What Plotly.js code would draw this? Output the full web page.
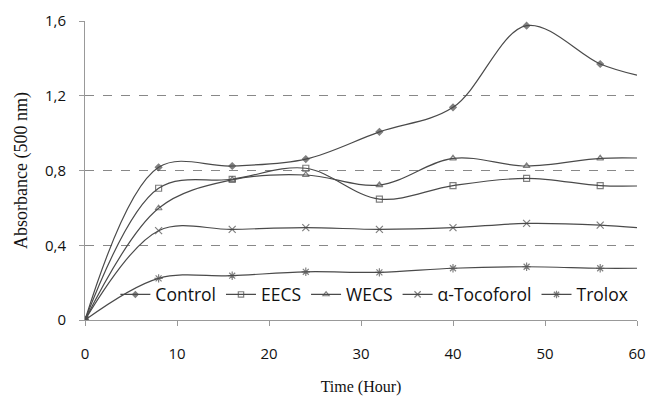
<!DOCTYPE html>
<html>
<head>
<meta charset="utf-8">
<script src="https://cdn.plot.ly/plotly-3.0.1.min.js"></script>
<style>html,body{margin:0;padding:0;background:#fff;}#chart{width:653px;height:400px;}</style>
</head>
<body>
<div id="chart"></div>
<script>
const time = [0, 8, 16, 24, 32, 40, 48, 56, 60];
const control = [0, 0.817, 0.824, 0.861, 1.007, 1.138, 1.575, 1.37, 1.31];
const eecs = [0, 0.705, 0.753, 0.812, 0.647, 0.719, 0.758, 0.719, 0.717];
const wecs = [0, 0.598, 0.75, 0.776, 0.722, 0.865, 0.824, 0.865, 0.867];
const tocoferol = [0, 0.478, 0.485, 0.494, 0.485, 0.494, 0.517, 0.508, 0.494];
const trolox = [0, 0.223, 0.237, 0.258, 0.255, 0.277, 0.285, 0.277, 0.277];
const seriesNames = ['Control', 'EECS', 'WECS', 'α-Tocoforol', 'Trolox'];
const yTickVals = [0, 0.4, 0.8, 1.2, 1.6];
const yTickText = ['0', '0,4', '0,8', '1,2', '1,6'];
const xTickVals = [0, 10, 20, 30, 40, 50, 60];

const lineColor = '#4a4a4a';
const symbols = ['diamond', 'square-open', 'triangle-up-open', 'x-thin-open', 'asterisk-open'];
const sizes = [5, 6, 6, 7, 7];
const data = [control, eecs, wecs, tocoferol, trolox];

const traces = data.map((ys, i) => ({
  x: time,
  y: ys,
  name: seriesNames[i],
  type: 'scatter',
  mode: 'lines+markers',
  line: {color: lineColor, width: 1.2, shape: 'spline', smoothing: 1},
  marker: {
    symbol: symbols[i],
    size: time.map((t, k) => (k === time.length - 1 ? 0 : sizes[i])),
    color: lineColor,
    line: {color: lineColor, width: 1.2}
  }
}));

const layout = {
  width: 653,
  height: 400,
  margin: {l: 85, r: 16, t: 21, b: 80, autoexpand: false},
  paper_bgcolor: '#fff',
  plot_bgcolor: '#fff',
  showlegend: true,
  legend: {
    orientation: 'h',
    x: 0.055, y: 0.025, xanchor: 'left', yanchor: 'bottom',
    bgcolor: 'rgba(0,0,0,0)',
    font: {family: '"Open Sans", Lato, sans-serif', size: 17.5, color: '#111'},
    itemwidth: 30,
    tracegroupgap: 0
  },
  xaxis: {
    range: [0, 60],
    tickvals: xTickVals,
    ticks: 'outside', ticklen: 5, tickcolor: '#999',
    showline: true, linecolor: '#999', linewidth: 1,
    showgrid: false, zeroline: false,
    ticklabelstandoff: 15,
    tickfont: {family: '"Open Sans", Lato, sans-serif', size: 15, color: '#111'},
    title: {text: 'Time (Hour)', font: {family: '"Liberation Serif", "DejaVu Serif", serif', size: 16, color: '#111'}, standoff: 18}
  },
  yaxis: {
    range: [0, 1.6],
    tickvals: yTickVals,
    ticktext: yTickText,
    ticks: 'outside', ticklen: 5, tickcolor: '#999',
    showline: true, linecolor: '#999', linewidth: 1,
    showgrid: true, gridcolor: '#888', griddash: 'dash', gridwidth: 1,
    zeroline: false,
    ticklabelstandoff: 10,
    tickfont: {family: '"Open Sans", Lato, sans-serif', size: 15, color: '#111'},
    title: {text: 'Absorbance (500 nm)', font: {family: '"Liberation Serif", "DejaVu Serif", serif', size: 18, color: '#111'}, standoff: 12}
  }
};

Plotly.newPlot('chart', traces, layout, {displayModeBar: false, staticPlot: true});
</script>
</body>
</html>
